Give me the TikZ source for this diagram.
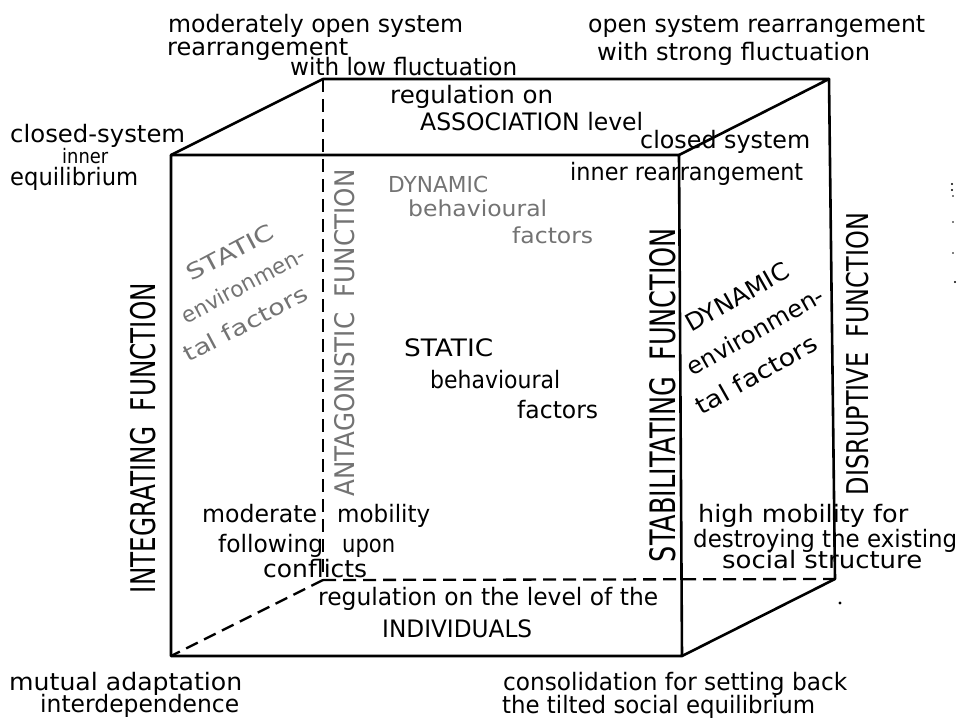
\documentclass[tikz,border=0pt]{standalone}
\usepackage{fontspec}
\usepackage{graphicx}
\setmainfont{DejaVu Sans}
\newcommand{\fw}[2]{\resizebox{#1pt}{\height}{#2}}
\begin{document}
\begin{tikzpicture}[x=1pt,y=-1pt,
  lbl/.style={inner sep=0pt, anchor=base west, font=\fontsize{24}{24}\selectfont},
  glbl/.style={lbl, text=black!55, font=\fontsize{22}{22}\selectfont},
  fn/.style={inner sep=0pt, rotate=90, anchor=center},
  block/.style={inner sep=0pt, anchor=center, align=left},
  edge/.style={line width=2.6pt, line join=round, line cap=round},
  hid/.style={line width=2.3pt, dash pattern=on 13pt off 7pt}]
\useasboundingbox (0,0) rectangle (962,718);
% cube corners
\coordinate (ftl) at (171,155);
\coordinate (ftr) at (679,155);
\coordinate (fbr) at (682,656);
\coordinate (fbl) at (171,656);
\coordinate (btl) at (323,79);
\coordinate (btr) at (829,79);
\coordinate (bbr) at (835,579);
\coordinate (bbl) at (323,580);
% hidden edges
\draw[hid] (btl) -- (bbl);
\draw[hid] (bbl) -- (bbr);
\draw[hid] (bbl) -- (fbl);
% visible edges
\draw[edge] (ftl) -- (ftr) -- (fbr) -- (fbl) -- cycle;
\draw[edge] (ftl) -- (btl) -- (btr) -- (ftr);
\draw[edge] (btr) -- (bbr) -- (fbr);
% top labels
\node[lbl] (t1) at (168,32) {\fw{295}{moderately open system}};
\node[lbl] (t2) at (167,55) {\fw{181}{rearrangement}};
\node[lbl] (t3) at (290,75) {\fw{227}{with low fluctuation}};
\node[lbl] (t4) at (588,32) {\fw{337}{open system rearrangement}};
\node[lbl] (t5) at (597,60) {\fw{273}{with strong fluctuation}};
\node[lbl] (t6) at (390,103) {\fw{163}{regulation on}};
\node[lbl] (t7) at (420,130) {\fw{223}{ASSOCIATION level}};
\node[lbl] (t8) at (10,142) {\fw{175}{closed-system}};
\node[lbl, font=\fontsize{20}{20}\selectfont] (t9) at (62,163) {\fw{46}{inner}};
\node[lbl] (t10) at (10,185) {\fw{128}{equilibrium}};
\node[lbl] (t11) at (640,148) {\fw{170}{closed system}};
\node[lbl] (t12) at (570,180) {\fw{233}{inner rearrangement}};
% dynamic behavioural (grey)
\node[glbl] (g1) at (388,192) {\fw{100}{DYNAMIC}};
\node[glbl] (g2) at (408,216) {\fw{139}{behavioural}};
\node[glbl] (g3) at (512,243) {\fw{81}{factors}};
% static behavioural
\node[lbl] (s1) at (404,356) {\fw{89}{STATIC}};
\node[lbl] (s2) at (430,388) {\fw{130}{behavioural}};
\node[lbl] (s3) at (517,418) {\fw{81}{factors}};
% static environmental (grey, slanted)
\node[block, text=black!55, font=\fontsize{22}{35}\selectfont, rotate=28] (e1) at (236,289)
  {\hspace*{41pt}\fw{95}{STATIC}\\ \hspace*{16pt}\fw{137}{environmen-}\\ \fw{137}{tal factors}};
% dynamic environmental (slanted)
\node[block, font=\fontsize{24}{38.5}\selectfont, rotate=29.5] (d1) at (750,334)
  {\hspace*{32pt}\fw{115}{DYNAMIC}\\ \hspace*{12pt}\fw{153}{environmen-}\\ \fw{136}{tal factors}};
% function labels
\node[fn, font=\fontsize{34}{34}\selectfont] (f1) at (143,438) {\fw{310}{INTEGRATING\ \ FUNCTION}};
\node[fn, font=\fontsize{27}{27}\selectfont, text=black!55] (f2) at (345,333) {\fw{327}{ANTAGONISTIC\ \ FUNCTION}};
\node[fn, font=\fontsize{35}{35}\selectfont] (f3) at (663,395) {\fw{334}{STABILITATING\ \ FUNCTION}};
\node[fn, font=\fontsize{30}{30}\selectfont] (f4) at (858,354) {\fw{282}{DISRUPTIVE\ \ FUNCTION}};
% lower labels
\node[lbl] (m1) at (202,522) {\fw{115}{moderate}};
\node[lbl] (m2) at (337,522) {\fw{93}{mobility}};
\node[lbl] (m3) at (218,552) {\fw{105}{following}};
\node[lbl] (m4) at (342,552) {\fw{53}{upon}};
\node[lbl] (m5) at (263,577) {\fw{104}{conflicts}};
\node[lbl] (r1) at (318,605) {\fw{340}{regulation on the level of the}};
\node[lbl] (r2) at (382,637) {\fw{150}{INDIVIDUALS}};
\node[lbl] (h1) at (698,522) {\fw{210}{high mobility for}};
\node[lbl] (h2) at (693,547) {\fw{264}{destroying the existing}};
\node[lbl] (h3) at (722,568) {\fw{200}{social structure}};
\node[lbl] (b1) at (9,690) {\fw{233}{mutual adaptation}};
\node[lbl] (b2) at (40,712) {\fw{199}{interdependence}};
\node[lbl] (b3) at (503,690) {\fw{344}{consolidation for setting back}};
\node[lbl] (b4) at (502,713) {\fw{313}{the tilted social equilibrium}};
% stray marks of the original
\fill (952,184) circle (1.1);
\fill (952,190) circle (1.1);
\fill (953,196) circle (0.9);
\fill (953,222) circle (0.9);
\fill (953,253) circle (0.9);
\fill (955,282) circle (1.1);
\fill (840,603) circle (1.6);
\end{tikzpicture}
\end{document}
